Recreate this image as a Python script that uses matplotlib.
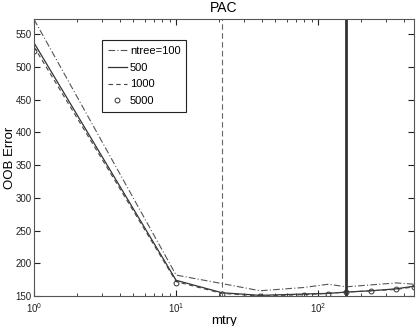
import matplotlib
matplotlib.use("Agg")
import matplotlib.pyplot as plt
import numpy as np

plt.rcParams['font.family'] = ['Liberation Sans', 'DejaVu Sans']

# data
mtry = [1, 10, 21, 39, 79, 118, 157, 236, 354, 472]
err_100 = [573, 182, 169, 158, 163, 168, 164, 167, 170, 168]
err_500 = [537, 174, 155, 151, 153, 154, 156, 158, 161, 165]
err_1000 = [531, 172, 154, 150, 152, 154, 156, 158, 160, 164]
err_5000 = [525, 170, 153, 150, 152, 153.5, 156, 157.6, 160, 164]
legend_labels = ["ntree=100", "500", "1000", "5000"]
p = 472
vlines = [21, p / 3]

C = "#333333"
fig = plt.figure(figsize=(4.16, 3.26), dpi=100)
ax = fig.add_axes([34/416, 1 - 296/326, 380/416, (296 - 19.3)/326])

ax.plot(mtry, err_100, color="#555555", lw=0.8, ls=(0, (6, 2, 1, 2)), label=legend_labels[0])
ax.plot(mtry, err_500, color=C, lw=0.9, ls="-", label=legend_labels[1])
ax.plot(mtry, err_1000, color="#444444", lw=0.8, ls=(0, (4, 3)), label=legend_labels[2])
ax.plot(mtry, err_5000, ls="none", marker="o", ms=3.5, mfc="none", mec=C, mew=0.7, label=legend_labels[3])

ax.axvline(vlines[0], color="#666666", lw=0.8, ls=(0, (5, 3)))
ax.axvline(vlines[1], color=C, lw=2)

ax.set_xscale("log")
ax.set_xlim(1, p)
ax.set_ylim(150, 573)
ax.set_yticks(np.arange(150, 551, 50))
ax.tick_params(which="both", direction="in", top=True, right=True, labelsize=7, colors="#222222", pad=1.5)
ax.tick_params(axis="x", which="both", pad=3.5)
ax.tick_params(which="major", length=4)
ax.tick_params(which="minor", length=2)
for s in ax.spines.values():
    s.set_color("#555555")
    s.set_linewidth(0.8)

ax.set_xlabel("mtry", fontsize=9.5, labelpad=0)
ax.set_ylabel("OOB Error", fontsize=9.5, labelpad=0)
ax.set_title("PAC", fontsize=10, pad=5)

leg = ax.legend(loc="upper left", bbox_to_anchor=(0.165, 0.945), fontsize=8, fancybox=False,
                framealpha=1, edgecolor="#222222", handlelength=1.7, handletextpad=0.3,
                borderpad=0.5, labelspacing=0.62)
leg.get_frame().set_linewidth(0.8)

fig.savefig("out.png", dpi=100)
